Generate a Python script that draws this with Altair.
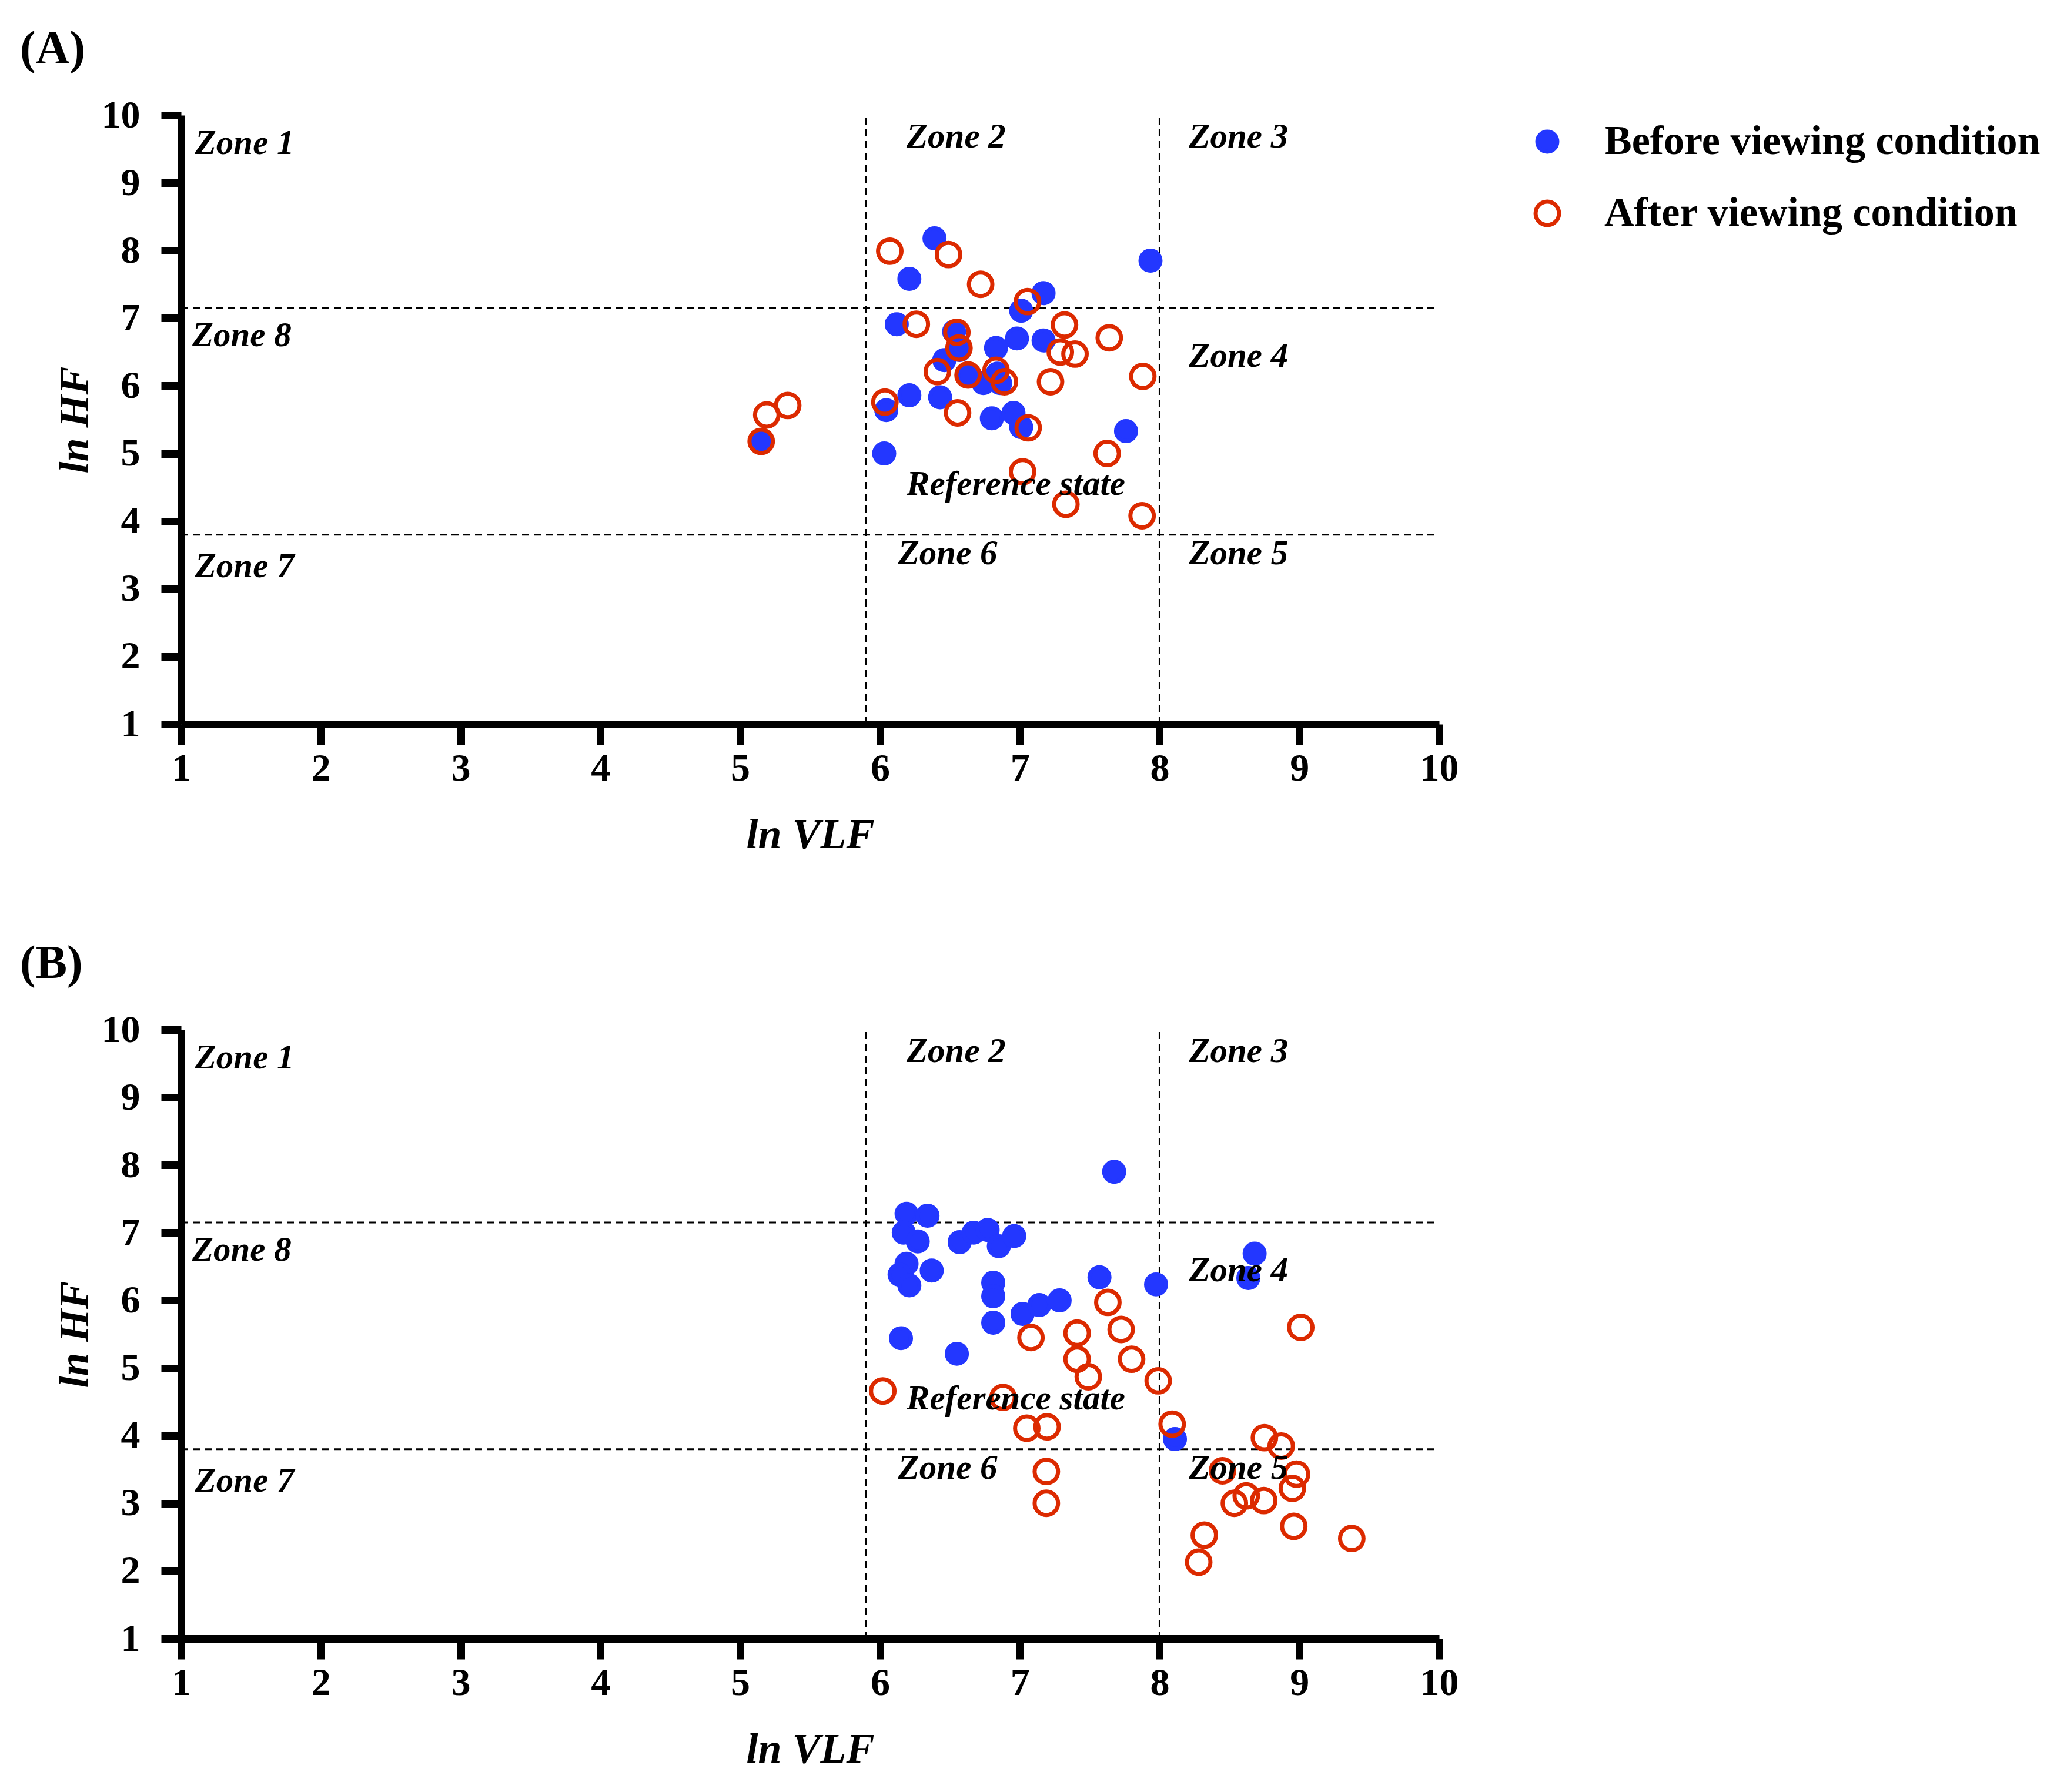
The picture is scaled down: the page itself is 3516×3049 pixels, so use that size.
import altair as alt
import pandas as pd

BLUE = "#2337FF"
RED = "#DC2A00"
FONT = "Liberation Serif"

conditions = ["Before viewing condition", "After viewing condition"]
tick_values = [1, 2, 3, 4, 5, 6, 7, 8, 9, 10]
axis_domain = [1, 10]

# cut-offs of the zones
vlf_cuts = [5.9, 8.0]
hf_cuts = [7.15, 3.8]

zone_text = ["Zone 1", "Zone 2", "Zone 3", "Zone 8", "Zone 4",
             "Reference state", "Zone 7", "Zone 6", "Zone 5"]
zone_x = [1.10, 6.19, 8.21, 1.08, 8.21, 6.19, 1.10, 6.13, 8.21]
zone_y = [9.43, 9.52, 9.52, 6.59, 6.28, 4.39, 3.17, 3.36, 3.36]

# Panel A
a_before_vlf = [6.39, 6.21, 7.935, 7.17, 7.01, 6.12, 6.53, 6.98, 7.17, 6.83, 6.57, 6.46, 6.84,
                6.86, 6.63, 6.74, 6.21, 6.43, 6.80, 6.955, 7.01, 7.76, 6.03, 6.045, 5.15]
a_before_hf = [8.18, 7.58, 7.85, 7.37, 7.11, 6.91, 6.80, 6.70, 6.67, 6.56, 6.53, 6.38, 6.18,
               6.04, 6.15, 6.04, 5.86, 5.83, 5.52, 5.60, 5.39, 5.33, 5.00, 5.64, 5.18]
a_after_vlf = [6.07, 6.49, 6.72, 7.055, 6.26, 6.55, 6.565, 7.32, 7.64, 7.29, 7.395, 6.41, 6.63,
               6.83, 6.89, 7.22, 7.88, 6.035, 6.555, 7.06, 7.625, 7.02, 7.33, 7.875, 5.19, 5.34, 5.15]
a_after_hf = [7.99, 7.94, 7.50, 7.245, 6.91, 6.79, 6.56, 6.90, 6.71, 6.50, 6.47, 6.21, 6.16,
              6.23, 6.06, 6.06, 6.14, 5.76, 5.60, 5.38, 5.00, 4.73, 4.25, 4.08, 5.57, 5.71, 5.18]

# Panel B
b_before_vlf = [7.675, 6.19, 6.34, 6.17, 6.27, 6.57, 6.67, 6.77, 6.85, 6.96, 6.19, 6.14, 6.21,
                6.37, 6.81, 6.81, 6.81, 7.02, 7.14, 7.285, 6.15, 6.55, 7.57, 7.975, 8.68, 8.635, 8.11]
b_before_hf = [7.90, 7.28, 7.25, 7.00, 6.87, 6.86, 7.00, 7.04, 6.80, 6.95, 6.54, 6.38, 6.22,
               6.44, 6.26, 6.06, 5.67, 5.80, 5.93, 6.00, 5.44, 5.21, 6.34, 6.235, 6.69, 6.33, 3.95]
b_after_vlf = [7.63, 7.08, 7.41, 7.725, 7.41, 7.80, 7.49, 7.99, 6.02, 6.88, 7.05, 7.195, 8.09,
               9.01, 7.19, 7.19, 8.75, 8.87, 8.45, 8.98, 8.95, 8.62, 8.535, 8.745, 8.96, 8.32,
               8.28, 9.375]
b_after_hf = [5.97, 5.45, 5.515, 5.57, 5.13, 5.13, 4.87, 4.81, 4.66, 4.565, 4.11, 4.13, 4.17,
              5.60, 3.47, 3.00, 3.97, 3.845, 3.48, 3.43, 3.22, 3.11, 3.00, 3.04, 2.66, 2.53,
              2.13, 2.48]

W, H = 2140, 1036


def panel(bx, by, ax_, ay, tag, with_legend):
    df = pd.DataFrame({
        "vlf": bx + ax_,
        "hf": by + ay,
        "cond": [conditions[0]] * len(bx) + [conditions[1]] * len(ax_),
    })
    xs = alt.Scale(domain=axis_domain, nice=False, zero=False)
    ys = alt.Scale(domain=axis_domain, nice=False, zero=False)
    xenc = alt.X("vlf:Q", scale=xs, title="ln VLF",
                 axis=alt.Axis(values=tick_values, format="d"))
    yenc = alt.Y("hf:Q", scale=ys, title="ln HF",
                 axis=alt.Axis(values=tick_values, format="d"))

    vdf = pd.DataFrame({"vlf": vlf_cuts, "lo": [1] * 2, "hi": [10] * 2})
    hdf = pd.DataFrame({"hf": hf_cuts, "lo": [1] * 2, "hi": [10] * 2})
    vr = alt.Chart(vdf).mark_rule(color="black", strokeWidth=3, strokeDash=[12, 8]).encode(
        x=alt.X("vlf:Q", scale=xs), y=alt.Y("lo:Q", scale=ys), y2="hi:Q")
    hr = alt.Chart(hdf).mark_rule(color="black", strokeWidth=3, strokeDash=[12, 8]).encode(
        y=alt.Y("hf:Q", scale=ys), x=alt.X("lo:Q", scale=xs), x2="hi:Q")

    if with_legend:
        leg = alt.Legend(title=None, orient="none", legendX=2289, legendY=10,
                         labelFont=FONT, labelFontSize=70, labelFontWeight="bold",
                         labelColor="black", labelOffset=62, rowPadding=52, padding=0,
                         symbolStrokeWidth=7, symbolType="circle", labelLimit=2000)
    else:
        leg = None
    enc = dict(
        x=xenc, y=yenc,
        fill=alt.Fill("cond:N", scale=alt.Scale(domain=conditions, range=[BLUE, "transparent"]),
                      legend=leg),
        stroke=alt.Stroke("cond:N", scale=alt.Scale(domain=conditions, range=[BLUE, RED]),
                          legend=leg),
        size=alt.Size("cond:N", scale=alt.Scale(domain=conditions, range=[1150, 1590]),
                      legend=leg),
    )
    pts = alt.Chart(df).mark_point(shape="circle", strokeWidth=7, opacity=1).encode(**enc)

    zdf = pd.DataFrame({"vlf": zone_x, "hf": zone_y, "t": zone_text})
    zones = alt.Chart(zdf).mark_text(align="left", baseline="alphabetic", font=FONT,
                                     fontSize=59, fontStyle="italic", fontWeight="bold",
                                     color="black").encode(
        x=alt.X("vlf:Q", scale=xs), y=alt.Y("hf:Q", scale=ys), text="t:N")

    tdf = pd.DataFrame({"t": [tag]})
    tag_mark = alt.Chart(tdf).mark_text(align="left", baseline="middle", font=FONT,
                                        fontSize=80, fontWeight="bold", color="black").encode(
        x=alt.value(-274), y=alt.value(-112), text="t:N")

    return alt.layer(vr, hr, pts, zones, tag_mark).properties(width=W, height=H)


chart = alt.vconcat(
    panel(a_before_vlf, a_before_hf, a_after_vlf, a_after_hf, "(A)", True),
    panel(b_before_vlf, b_before_hf, b_after_vlf, b_after_hf, "(B)", False),
    spacing=144,
).resolve_scale(fill="independent", stroke="independent", size="independent"
).properties(
    padding={"left": 26, "top": 36, "right": 10, "bottom": 10}
).configure_view(strokeWidth=0).configure_axis(
    grid=False, labelFlush=False,
    domainColor="black", domainWidth=13,
    tickColor="black", tickWidth=13,
    labelFont=FONT, labelFontSize=66, labelFontWeight="bold", labelColor="black",
    titleFont=FONT, titleFontSize=72, titleFontWeight="bold", titleFontStyle="italic",
    titleColor="black",
).configure_axisX(
    tickSize=35, labelPadding=8, titlePadding=45,
).configure_axisY(
    tickSize=34, labelPadding=36, titlePadding=8,
)

chart.save("out.html", embed_options={"renderer": "svg", "actions": False})
